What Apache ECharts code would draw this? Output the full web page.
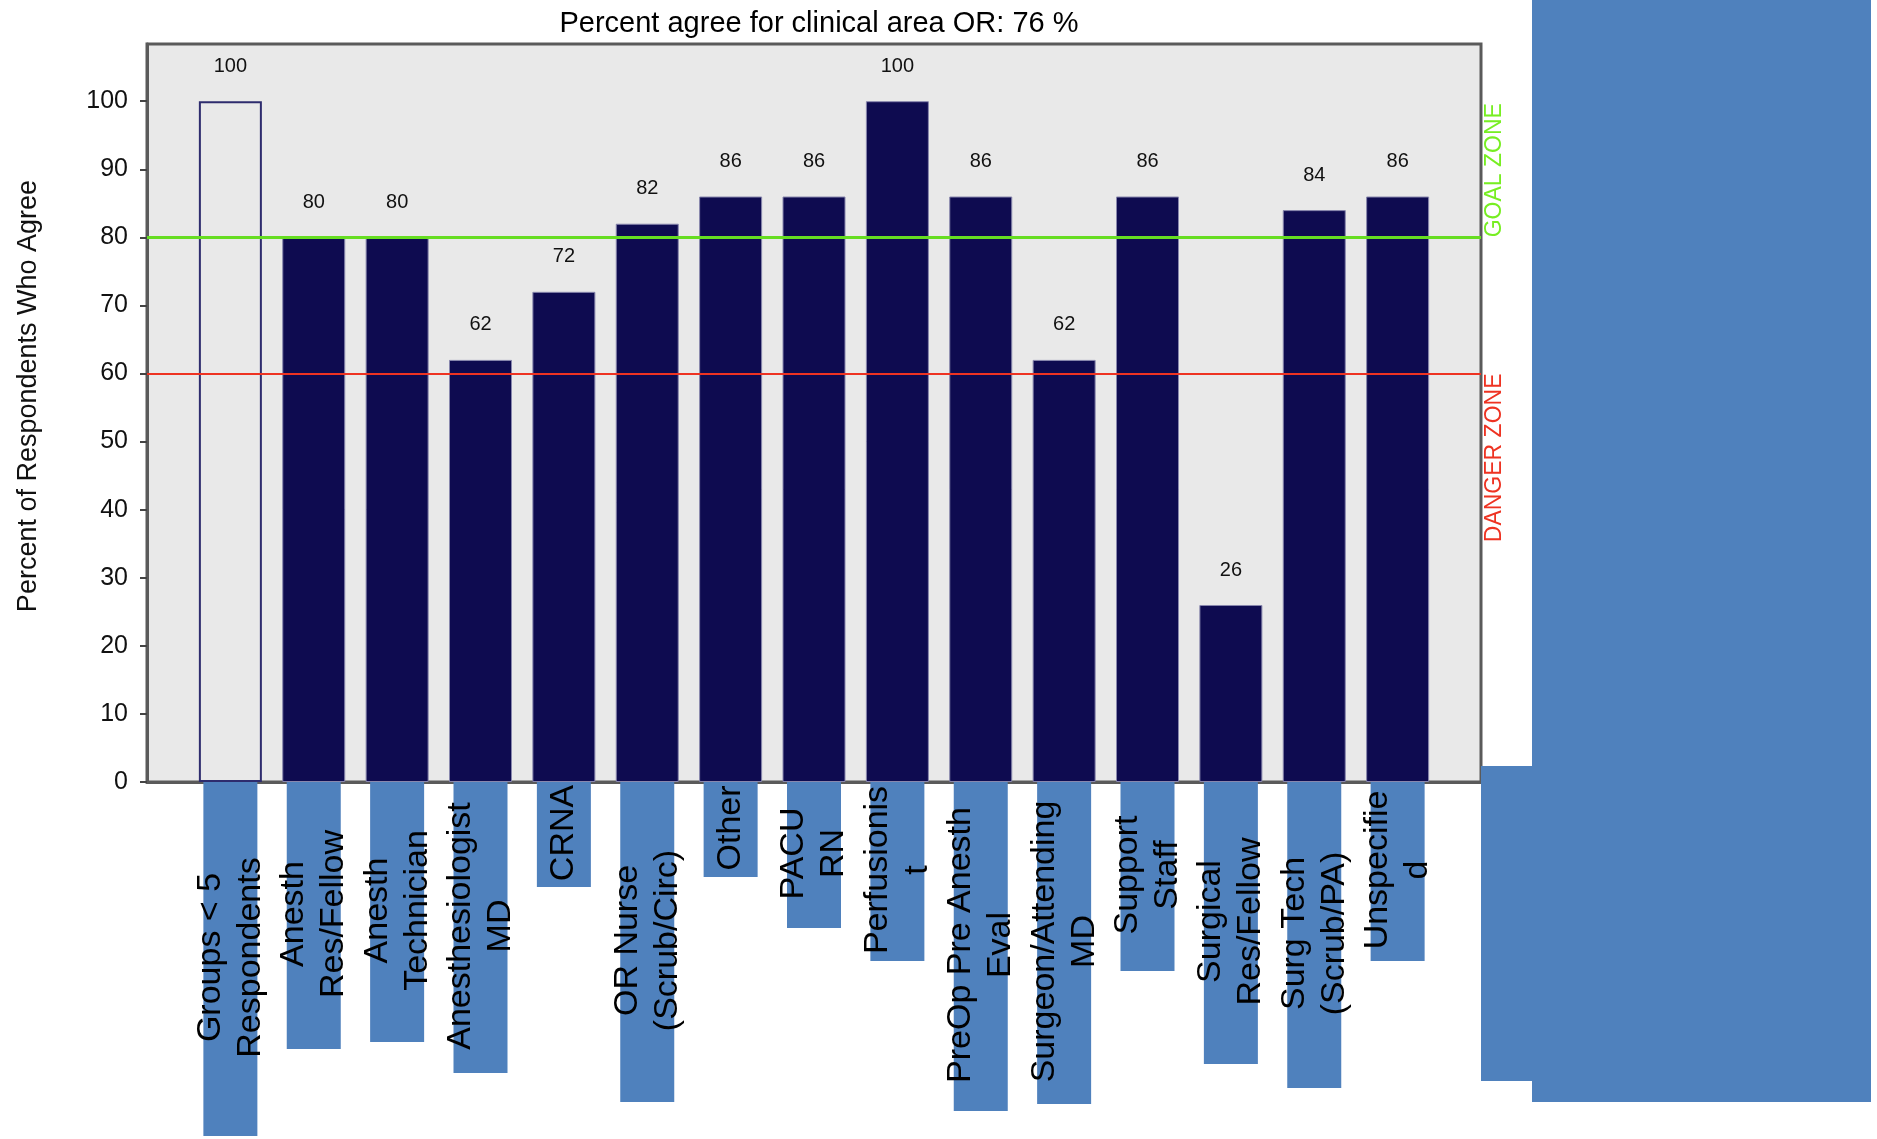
<!DOCTYPE html>
<html><head><meta charset="utf-8">
<script src="https://cdn.jsdelivr.net/npm/echarts@6/dist/echarts.min.js"></script>
<style>html,body{margin:0;padding:0;background:#fff}#c{width:1877px;height:1139px}</style>
</head><body><div id="c"></div>
<script>
// ---- data ----
const titleText = 'Percent agree for clinical area OR: 76 %';
const yAxisTitle = 'Percent of Respondents Who Agree';
const categories = ['Groups < 5\nRespondents','Anesth\nRes/Fellow','Anesth\nTechnician','Anesthesiologist\nMD','CRNA','OR Nurse\n(Scrub/Circ)','Other','PACU\nRN','Perfusionis\nt','PreOp Pre Anesth\nEval','Surgeon/Attending\nMD','Support\nStaff','Surgical\nRes/Fellow','Surg Tech\n(Scrub/PA)','Unspecifie\nd'];
const values = [100,80,80,62,72,82,86,86,100,86,62,86,26,84,86];
const yTickValues = [0,10,20,30,40,50,60,70,80,90,100];
const goalLevel = 80;
const dangerLevel = 60;
const goalText = 'GOAL ZONE';
const dangerText = 'DANGER ZONE';

// ---- build ----
const FONT = '"Liberation Sans", Arial, Helvetica, sans-serif';
const axisCats = [''].concat(categories, ['']);
const barData = ['-'].concat(values, ['-']);

const ctx = document.createElement('canvas').getContext('2d');
ctx.font = '31px "Liberation Sans"';
const boxLen = axisCats.map(c => c ? Math.round(ctx.measureText(c.replace(/\n/g, '')).width + 20) : 0);

const boxRich = {}, textRich = {};
axisCats.forEach((c, i) => {
  boxRich['b' + i] = {width: boxLen[i], height: 54, backgroundColor: '#4f81bd', fontSize: 31, color: 'rgba(0,0,0,0)'};
  textRich['t' + i] = {width: boxLen[i], align: 'center', fontSize: 34, lineHeight: 40, color: '#000', fontFamily: FONT};
});

const chart = echarts.init(document.getElementById('c'), null, {renderer: 'canvas'});
const GRID = {left: 147, top: 44, right: 396, bottom: 357};

chart.setOption({
  animation: false,
  backgroundColor: '#ffffff',
  title: {
    text: titleText, left: (GRID.left + (1877 - GRID.right)) / 2, top: 4, textAlign: 'center',
    textStyle: {fontSize: 29, fontWeight: 'normal', color: '#000', fontFamily: FONT}
  },
  grid: {
    left: GRID.left, top: GRID.top, right: GRID.right, bottom: GRID.bottom,
    show: true, backgroundColor: '#e9e9e9', borderColor: '#5a5a5a', borderWidth: 3,
    containLabel: false, outerBoundsMode: 'none'
  },
  xAxis: [{
    type: 'category', data: axisCats, boundaryGap: false,
    axisLine: {show: true, lineStyle: {color: '#5a5a5a', width: 3}},
    axisTick: {show: false},
    splitLine: {show: false},
    axisLabel: {
      interval: 0, rotate: 90, margin: -3, rich: boxRich,
      formatter: (v, i) => v ? '{b' + i + '| }' : ''
    }
  }, {
    type: 'category', data: axisCats, boundaryGap: false, position: 'bottom', z: 10,
    axisLine: {show: false}, axisTick: {show: false}, splitLine: {show: false},
    axisLabel: {
      interval: 0, rotate: 90, margin: -3, rich: textRich,
      formatter: (v, i) => v ? '{t' + i + '|' + v + '}' : ''
    }
  }],
  yAxis: {
    type: 'value', min: 0, max: 108.4, interval: 10,
    name: yAxisTitle, nameLocation: 'middle', nameRotate: 90, nameGap: 105,
    nameTextStyle: {fontSize: 27, color: '#111', fontFamily: FONT, padding: [0, 0, 0, 34]},
    axisLine: {show: true, lineStyle: {color: '#5a5a5a', width: 3}},
    axisTick: {show: true, length: 7, lineStyle: {color: '#444', width: 2}, customValues: yTickValues},
    axisLabel: {fontSize: 25, color: '#111', fontFamily: FONT, margin: 19, customValues: yTickValues,
      formatter: v => (v % 10 === 0 ? String(v) : '')},
    splitLine: {show: false}
  },
  series: [{
    type: 'bar', xAxisIndex: 0, barWidth: 63,
    data: barData.map((v, i) => i === 1 ? {value: v, itemStyle: {color: '#e9e9e9', borderColor: '#2e2c6e', borderWidth: 2}} : v),
    itemStyle: {color: '#0e0b50', borderColor: '#8887ad', borderWidth: 1},
    label: {show: true, position: 'top', distance: 25, fontSize: 20, color: '#111', fontFamily: FONT},
    markLine: {
      silent: true, symbol: 'none', label: {show: false},
      data: [
        {yAxis: goalLevel, lineStyle: {color: '#66dd22', width: 3, type: 'solid'}},
        {yAxis: dangerLevel, lineStyle: {color: '#ee3322', width: 2, type: 'solid'}}
      ]
    }
  }]
});

const yGoal = chart.convertToPixel({yAxisIndex: 0}, goalLevel);
const yDanger = chart.convertToPixel({yAxisIndex: 0}, dangerLevel);
const xRight = 1877 - GRID.right;
chart.setOption({
  graphic: [
    {type: 'rect', shape: {x: 1532, y: 0, width: 339, height: 1102}, style: {fill: '#4f81bd'}, z: 1},
    {type: 'rect', shape: {x: 1481, y: 766, width: 51, height: 315}, style: {fill: '#4f81bd'}, z: 1},
    {type: 'text', x: xRight + 14, y: yGoal, rotation: Math.PI / 2, z: 5,
      style: {text: goalText, fill: '#77ee22', font: '23px "Liberation Sans"', align: 'left', textAlign: 'left', verticalAlign: 'middle', textVerticalAlign: 'middle'}},
    {type: 'text', x: xRight + 14, y: yDanger, rotation: Math.PI / 2, z: 5,
      style: {text: dangerText, fill: '#ee3322', font: '23px "Liberation Sans"', align: 'right', textAlign: 'right', verticalAlign: 'middle', textVerticalAlign: 'middle'}}
  ]
});
</script></body></html>
